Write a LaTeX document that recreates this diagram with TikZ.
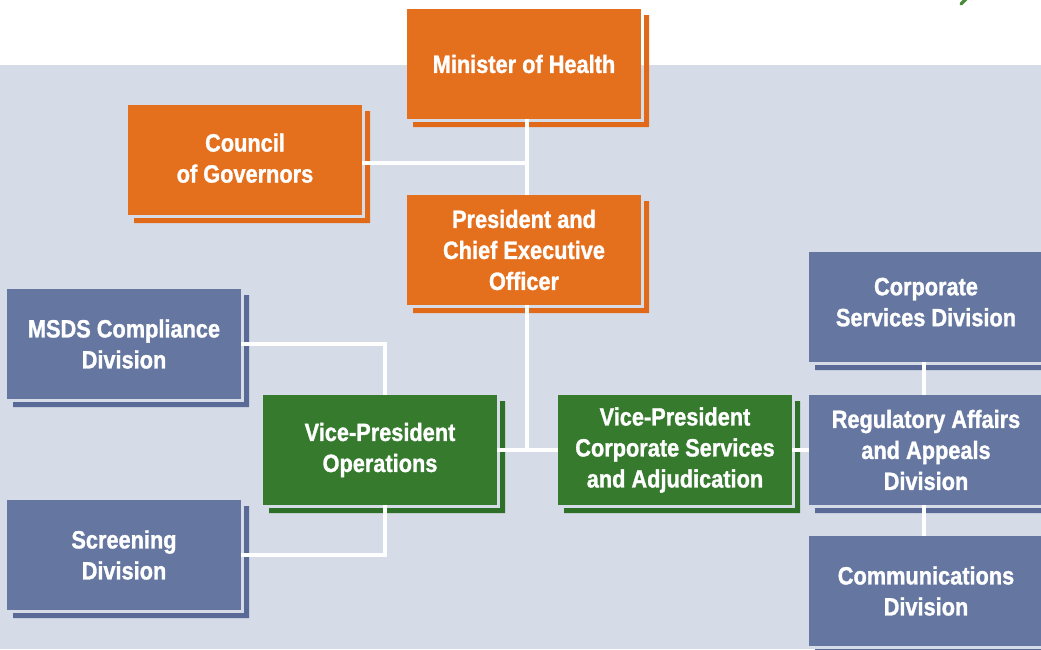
\documentclass[tikz,border=0pt]{standalone}
\usepackage{fontspec}
\newfontfamily\boxfont{Liberation Sans}[FakeStretch=0.87, BoldFeatures={FakeBold=1.2}]
\usetikzlibrary{calc}

\definecolor{pagebg}{HTML}{D5DCE7}
\definecolor{boxorange}{HTML}{E4701E}
\definecolor{boxgreen}{HTML}{357A2D}
\definecolor{boxblue}{HTML}{6577A0}
\definecolor{shadeorange}{HTML}{E06A1A}
\definecolor{shadegreen}{HTML}{2F7028}
\definecolor{shadeblue}{HTML}{586A95}
\definecolor{markgreen}{HTML}{4A8C3A}

\tikzset{
  unitbox/.style={
    rectangle, fill=#1, draw=none, outer sep=0pt,
    minimum width=234pt, minimum height=110pt, inner sep=0pt,
    text=white, align=center,
    font=\boxfont\bfseries\fontsize{25}{31}\selectfont
  },
  orangebox/.style={unitbox=boxorange},
  greenbox/.style={unitbox=boxgreen},
  bluebox/.style={unitbox=boxblue},
  link/.style={draw=white, line width=4.5pt}
}

% L-shaped offset shadow on the right and lower sides of a box,
% separated from it by a thin gap of background
\newcommand\boxshade[2]{%
  \fill[#2] ($(#1.north east)+(3,6)$) -- ($(#1.north east)+(8,6)$)
    -- ($(#1.south east)+(8,8)$) -- ($(#1.south west)+(6,8)$)
    -- ($(#1.south west)+(6,3)$) -- ($(#1.south east)+(3,3)$) -- cycle;}

\begin{document}
\begin{tikzpicture}[x=1pt, y=-1pt]
  \useasboundingbox (0,0) rectangle (1041,649);
  % page background
  \fill[white] (0,0) rectangle (1041,649);
  \fill[pagebg] (0,65) rectangle (1041,649);
  \draw[markgreen, line width=3.5pt, line cap=round] (961,4) -- (967,-2);

  % executive boxes
  \node[orangebox] (minister)  at (524,64)  {Minister of Health};
  \node[orangebox, text depth=4pt] (council) at (245,160) {Council\\of Governors};
  \node[orangebox] (president) at (524,250) {President and\\Chief Executive\\Officer};

  % vice-presidents
  \node[greenbox] (vpops)  at (380,450) {Vice-President\\Operations};
  \node[greenbox] (vpcorp) at (675,450) {Vice-President\\Corporate Services\\and Adjudication};

  % divisions
  \node[bluebox] (msds)      at (124,344) {MSDS Compliance\\Division};
  \node[bluebox] (screening) at (124,555) {Screening\\Division};
  \node[bluebox, text depth=10pt] (corpserv) at (926,307) {Corporate\\Services Division};
  \node[bluebox] (regaff)    at (926,450) {Regulatory Affairs\\and Appeals\\Division};
  \node[bluebox] (comms)     at (926,591) {Communications\\Division};

  % shadows
  \foreach \n in {minister, council, president} {\boxshade{\n}{shadeorange}}
  \foreach \n in {vpops, vpcorp} {\boxshade{\n}{shadegreen}}
  \foreach \n in {msds, screening, corpserv, regaff, comms} {\boxshade{\n}{shadeblue}}

  % reporting lines
  \coordinate (spine) at ([xshift=3pt]minister.south);
  \coordinate (councilout) at ([yshift=-3pt]council.east);
  \coordinate (opsdrop) at ([xshift=5pt]vpops.north);
  \coordinate (divspine) at ([xshift=-2pt]regaff.north);
  \draw[link] (spine) -- (spine |- president.north);
  \draw[link] (councilout) -- (councilout -| spine);
  \draw[link] (spine |- president.south) -- (spine |- vpops.east);
  \draw[link] (vpops.east) -- (vpcorp.west);
  \draw[link] (msds.east) -| (opsdrop);
  \draw[link] (screening.east) -| (opsdrop |- vpops.south);
  \draw[link] (vpcorp.east) -- (regaff.west);
  \draw[link] (divspine |- corpserv.south) -- (divspine);
  \draw[link] (divspine |- regaff.south) -- (divspine |- comms.north);
\end{tikzpicture}
\end{document}
